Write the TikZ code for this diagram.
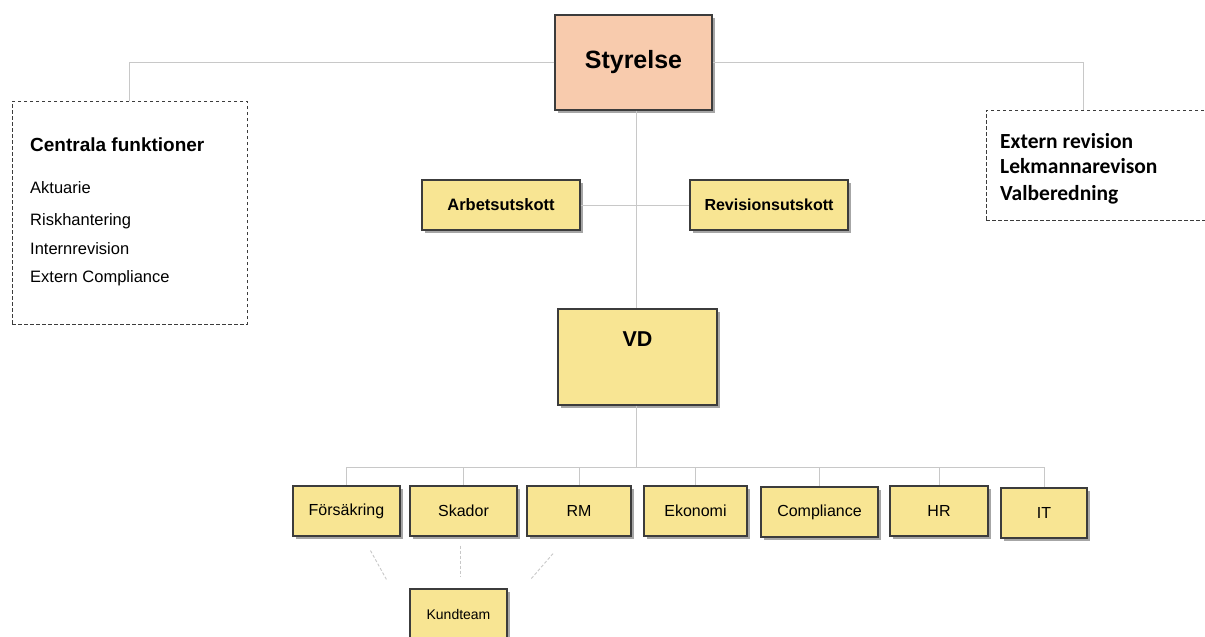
\documentclass[tikz,border=0pt]{standalone}
\usepackage{fontspec}
\setmainfont{Liberation Sans}
\newfontfamily\calibri{Carlito}
\usetikzlibrary{shadows,calc}
\definecolor{boardcolor}{HTML}{F8CBAD}
\definecolor{unitcolor}{HTML}{F8E593}
\definecolor{edgecolor}{HTML}{3C3C3C}
\definecolor{linkcolor}{HTML}{C8C8C8}

\begin{document}
\begin{tikzpicture}[
    x=1pt, y=-1pt,
    unit/.style={rectangle, draw=edgecolor, line width=1.2pt,
                 fill=unitcolor, align=center, inner sep=0pt,
                 drop shadow={shadow xshift=2.5pt, shadow yshift=-2.5pt,
                              fill=black, opacity=0.35}},
    dept/.style={unit, minimum height=50, font=\fontsize{16}{19}\selectfont},
    dashbox/.style={rectangle, draw=edgecolor, line width=0.9pt,
                    dash pattern=on 3.5pt off 2.5pt},
    link/.style={draw=linkcolor, line width=1pt},
    teamlink/.style={draw=linkcolor, line width=0.9pt, dash pattern=on 3pt off 2pt}
]
\clip (0,0) rectangle (1205,637);
\fill[white] (0,0) rectangle (1205,637);

% board and committees
\node[unit, fill=boardcolor, minimum width=157, minimum height=95,
      font=\fontsize{25}{30}\selectfont\bfseries] (sty) at (633.5,62.5) {Styrelse};
\node[unit, minimum width=158, minimum height=50,
      font=\fontsize{16.5}{20}\selectfont\bfseries] (arb) at (501,205) {Arbetsutskott};
\node[unit, minimum width=158, minimum height=50,
      font=\fontsize{16}{19}\selectfont\bfseries] (rev) at (769,205) {Revisionsutskott};
\node[unit, minimum width=159, minimum height=96] (vd) at (637.5,357) {};
\node[font=\fontsize{21.5}{25}\selectfont\bfseries, anchor=base] (vdtext)
      at (637.5,346) {VD};

% side boxes
\node[dashbox, minimum width=235, minimum height=223] (central) at (129.5,212.5) {};
\node[anchor=base west, inner sep=0pt, font=\fontsize{19}{23}\selectfont\bfseries]
      (cenhead) at (30,151.5) {Centrala funktioner};
\foreach \t/\y [count=\i] in {Aktuarie/193, Riskhantering/225,
                              Internrevision/254, Extern Compliance/282}
    \node[anchor=base west, inner sep=0pt, font=\fontsize{16.5}{20}\selectfont]
          (cen\i) at (30,\y) {\t};
\node[dashbox, minimum width=240, minimum height=110] (ext) at (1106,165) {};
\foreach \t/\y [count=\i] in {Extern revision/148, Lekmannarevison/173.5,
                              Valberedning/200}
    \node[anchor=base west, inner sep=0pt, font=\calibri\fontsize{21.5}{26}\selectfont\bfseries]
          (ext\i) at (1000,\y) {\t};

% departments
\node[dept, minimum width=107] (fors) at (346.5,511) {Försäkring};
\node[dept, minimum width=107] (skad) at (463.5,511) {Skador};
\node[dept, minimum width=104] (rm) at (579,511) {RM};
\node[dept, minimum width=103] (eko) at (695.5,511) {Ekonomi};
\node[dept, minimum width=117] (comp) at (819.5,512) {Compliance};
\node[dept, minimum width=98] (hr) at (939,511) {HR};
\node[dept, minimum width=86] (it) at (1044,513) {IT};
\node[dept, minimum width=97, font=\fontsize{14}{17}\selectfont] (kund) at (458.5,614) {Kundteam};

% connectors
\coordinate (bus) at (636,467);
\draw[link] (sty.west) -| (central.north);
\draw[link] (sty.east) -| ($(ext.north)+(-23,0)$);
\draw[link] (bus |- sty.south) -- (bus |- vd.north);
\draw[link] (arb) -- (rev);
\draw[link] (bus |- vd.south) -- (bus);
\foreach \n in {fors,skad,rm,eko,comp,hr,it}
    \draw[link] (bus) -| (\n.north);
\draw[teamlink] ($(fors.south)+(24,14)$) -- ($(kund.north west)+(-23,-9)$);
\draw[teamlink] ($(skad.south)+(-3,9)$) -- ($(kund.north)+(2,-12)$);
\draw[teamlink] ($(rm.south)+(-26,17)$) -- ($(kund.north east)+(23,-9)$);
\end{tikzpicture}
\end{document}
